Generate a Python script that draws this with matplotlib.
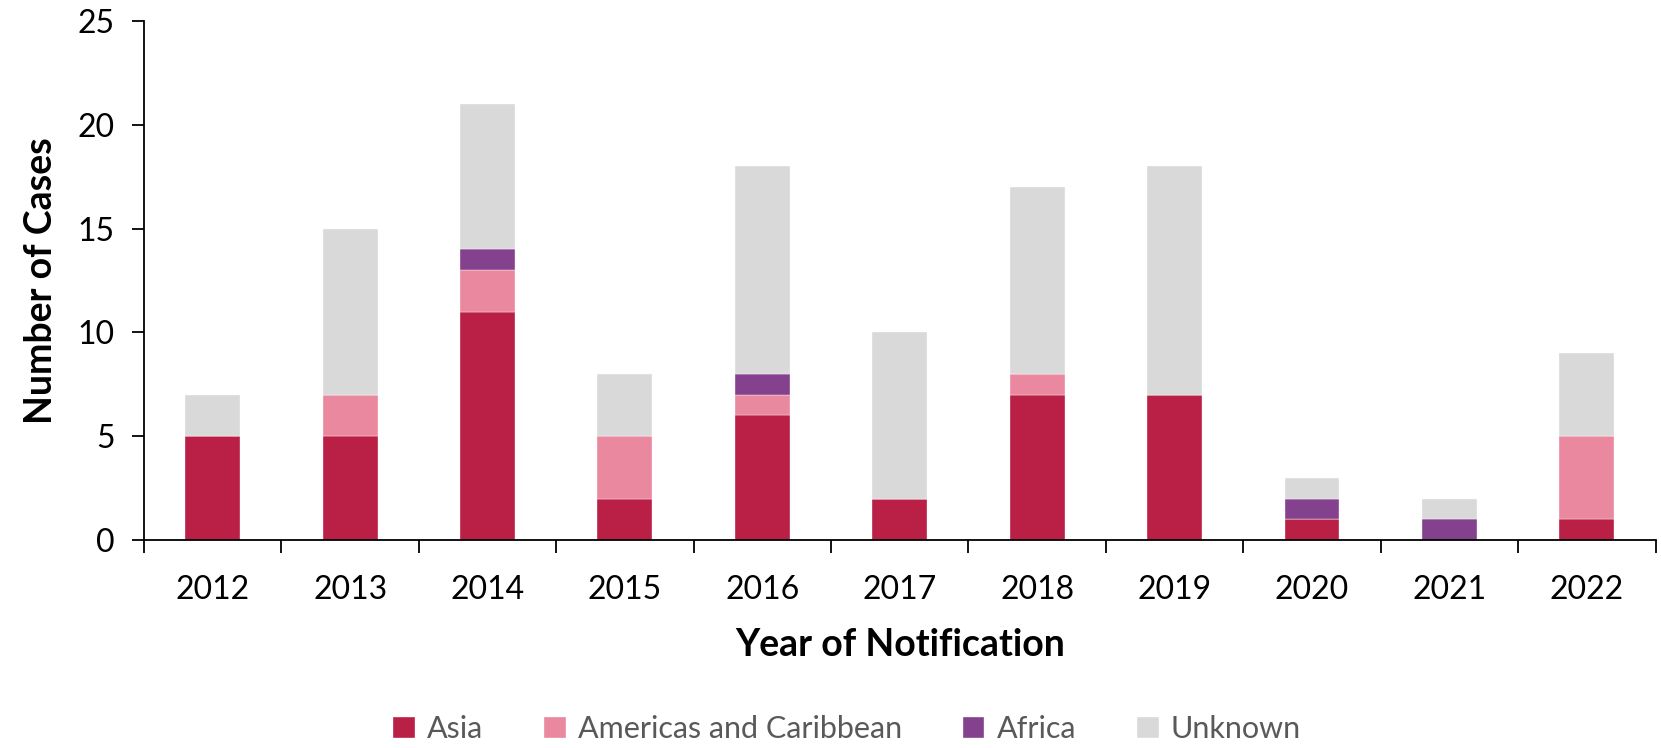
import numpy as np
import matplotlib
matplotlib.use('Agg')
import matplotlib.pyplot as plt

plt.rcParams['font.family'] = ['Lato', 'DejaVu Sans']

years = ['2012', '2013', '2014', '2015', '2016', '2017', '2018', '2019', '2020', '2021', '2022']
asia = [5, 5, 11, 2, 6, 2, 7, 7, 1, 0, 1]
americas = [0, 2, 2, 3, 1, 0, 1, 0, 0, 0, 4]
africa = [0, 0, 1, 0, 1, 0, 0, 0, 1, 1, 0]
unknown = [2, 8, 7, 3, 10, 8, 9, 11, 1, 1, 4]

series = [
    ('Asia', asia, '#BA2046'),
    ('Americas and Caribbean', americas, '#EA889F'),
    ('Africa', africa, '#84428E'),
    ('Unknown', unknown, '#D9D9D9'),
]

fig = plt.figure(figsize=(16.61, 7.48), dpi=100)
ax = fig.add_axes([0.0867, 0.278, 0.91, 0.694])

x = np.arange(len(years))
bottom = np.zeros(len(years))
for label, vals, color in series:
    vals = np.array(vals, dtype=float)
    ax.bar(x, vals, 0.4, bottom=bottom, color=color, label=label,
           edgecolor='white', linewidth=0.25)
    bottom += vals

ax.set_xlim(-0.5, len(years) - 0.5)
ax.set_ylim(0, 25)
ax.set_yticks(range(0, 26, 5))
ax.set_xticks(x)
ax.set_xticklabels(years)
ax.set_xticks(np.arange(-0.5, len(years), 1), minor=True)

for s in ['top', 'right']:
    ax.spines[s].set_visible(False)
for s in ['left', 'bottom']:
    ax.spines[s].set_linewidth(1.3)

ax.tick_params(axis='x', which='major', length=0, pad=25, labelsize=23)
ax.tick_params(axis='x', which='minor', length=9, width=1.3, direction='out')
ax.tick_params(axis='y', length=9, width=1.3, pad=12, labelsize=23)

ax.set_xlabel('Year of Notification', fontsize=27, fontweight='bold', labelpad=17)
ax.set_ylabel('Number of Cases', fontsize=27, fontweight='bold', labelpad=14)

leg = fig.legend(loc='center', bbox_to_anchor=(0.51, 0.025), ncol=4, frameon=False,
                 fontsize=22, handlelength=0.7, handleheight=0.7, columnspacing=2.0,
                 handletextpad=0.4)
for t in leg.get_texts():
    t.set_color('#595959')

fig.savefig('out.png', dpi=100)
